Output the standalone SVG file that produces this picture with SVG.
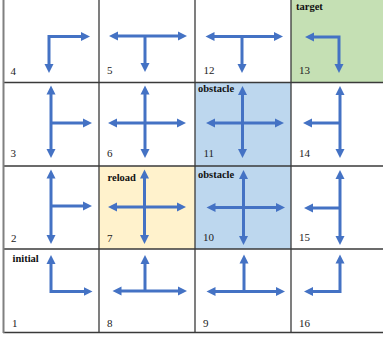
<svg xmlns="http://www.w3.org/2000/svg" width="383" height="339" viewBox="0 0 383 339">
<style>
.num{font-family:"Liberation Serif",serif;font-size:11px;fill:#222}
.lab{font-family:"Liberation Serif",serif;font-size:10.5px;font-weight:bold;fill:#111}
.grid{stroke:#3a3a3a;stroke-width:1.3;fill:none}
.arr{stroke:#4472C4;stroke-width:3;fill:none;marker-start:url(#ah);marker-end:url(#ah)}
.arr1{stroke:#4472C4;stroke-width:3;fill:none;marker-end:url(#ah)}
</style>
<defs>
<marker id="ah" markerUnits="userSpaceOnUse" markerWidth="10" markerHeight="10" viewBox="0 0 10 10" refX="1" refY="5" orient="auto-start-reverse">
<path d="M0,0.5 L9,5 L0,9.5 z" fill="#4472C4"/>
</marker>
</defs>
<g id="fills">
<rect x="291" y="0" width="92" height="82.5" fill="#C5E0B4"/>
<rect x="195" y="82.5" width="96" height="166.5" fill="#BDD7EE"/>
<rect x="99" y="166" width="96" height="83" fill="#FFF2CC"/>
</g>
<g id="grid">
<line class="grid" x1="99" y1="0" x2="99" y2="333"/>
<line class="grid" x1="195" y1="0" x2="195" y2="333"/>
<line class="grid" x1="291" y1="0" x2="291" y2="333"/>
<line class="grid" x1="3" y1="82.5" x2="383" y2="82.5"/>
<line class="grid" x1="3" y1="166" x2="383" y2="166"/>
<line class="grid" x1="3" y1="249" x2="383" y2="249"/>
<line class="grid" x1="3" y1="332.5" x2="383" y2="332.5" style="stroke-width:1.6"/>
<line x1="3.5" y1="0" x2="3.5" y2="333" stroke="#808080" stroke-width="2"/>
</g>
<g id="connectors">
<!-- row 0 -->
<path class="arr" d="M82,36.5 L49,36.5 L49,65"/>
<path class="arr" d="M117,36 L179,36"/>
<path class="arr1" d="M145,36 L145,64"/>
<path class="arr" d="M213.5,36.5 L275,36.5"/>
<path class="arr1" d="M242,36.5 L242,65"/>
<path class="arr" d="M313,37 L339,37 L339,65"/>
<!-- row 1 -->
<path class="arr" d="M51,93.5 L51,150"/>
<path class="arr1" d="M51,123 L84,123"/>
<path class="arr" d="M145,93.5 L145,150"/>
<path class="arr" d="M116,123 L178,123"/>
<path class="arr" d="M242.5,94 L242.5,150"/>
<path class="arr" d="M214,123 L276,123"/>
<path class="arr" d="M340,94 L340,150"/>
<path class="arr1" d="M340,123 L311,123"/>
<!-- row 2 -->
<path class="arr" d="M51,177.5 L51,236"/>
<path class="arr1" d="M51,206 L84,206"/>
<path class="arr" d="M144.5,177.5 L144.5,236"/>
<path class="arr" d="M116,207 L178,207"/>
<path class="arr" d="M243.5,178 L243.5,237"/>
<path class="arr" d="M214.5,207.5 L277,207.5"/>
<path class="arr" d="M340,178 L340,237"/>
<path class="arr1" d="M340,208 L312,208"/>
<!-- row 3 -->
<path class="arr" d="M51,263 L51,291.5 L84.5,291.5"/>
<path class="arr" d="M120.5,291 L179,291"/>
<path class="arr1" d="M145,291 L145,263"/>
<path class="arr" d="M214.5,291.5 L277,291.5"/>
<path class="arr1" d="M244,291.5 L244,262.5"/>
<path class="arr" d="M312,291.5 L340,291.5 L340,262.5"/>
</g>
<g id="cell4"><text class="num" x="10.5" y="75">4</text></g>
<g id="cell5"><text class="num" x="107" y="74">5</text></g>
<g id="cell12"><text class="num" x="203.5" y="74">12</text></g>
<g id="cell13"><text class="lab" x="296" y="10">target</text><text class="num" x="299" y="74">13</text></g>
<g id="cell3"><text class="num" x="10.5" y="157">3</text></g>
<g id="cell6"><text class="num" x="107" y="157">6</text></g>
<g id="cell11"><text class="lab" x="198" y="92">obstacle</text><text class="num" x="203.5" y="157">11</text></g>
<g id="cell14"><text class="num" x="299" y="157">14</text></g>
<g id="cell2"><text class="num" x="11" y="242">2</text></g>
<g id="cell7"><text class="lab" x="107.5" y="181">reload</text><text class="num" x="107" y="242">7</text></g>
<g id="cell10"><text class="lab" x="198" y="178">obstacle</text><text class="num" x="203" y="241">10</text></g>
<g id="cell15"><text class="num" x="299" y="241">15</text></g>
<g id="cell1"><text class="lab" x="12.5" y="262">initial</text><text class="num" x="12" y="327">1</text></g>
<g id="cell8"><text class="num" x="107" y="327">8</text></g>
<g id="cell9"><text class="num" x="203" y="327">9</text></g>
<g id="cell16"><text class="num" x="299" y="327">16</text></g>
</svg>
